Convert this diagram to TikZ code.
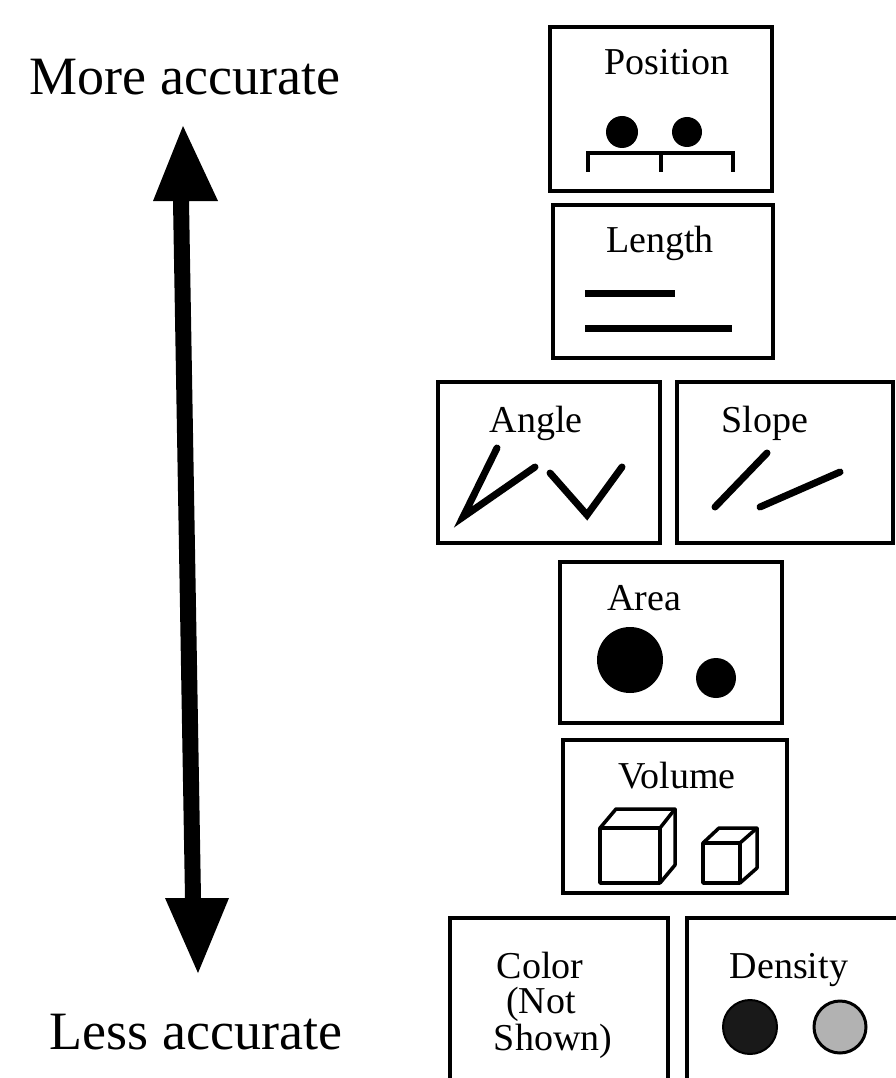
\documentclass[tikz,border=0pt]{standalone}
\usepackage{fontspec}
\setmainfont{Liberation Serif}
\begin{document}
\begin{tikzpicture}[x=1pt,y=-1pt,
  panel/.style={draw=black,line width=3.5pt},
  lab/.style={anchor=base,inner sep=0pt,font=\fontsize{38}{38}\selectfont},
  big/.style={anchor=base,inner sep=0pt,font=\fontsize{54}{54}\selectfont},
  stroke/.style={line width=7pt,line cap=round},
  bar/.style={line width=7pt},
  cube/.style={line width=3.5pt,line join=round}]
\useasboundingbox (0,0) rectangle (896,1078);
\clip (0,0) rectangle (896,1078);

% side labels
\node[big] (more) at (185,95) {More accurate};
\node[big] (less) at (196,1049) {Less accurate};

% double arrow
\coordinate (ttip) at (183,126);
\coordinate (btip) at (198,973);
\fill[black] (ttip) -- (218,201) -- (189,201) -- (201,898) -- (229,898) -- (btip)
  -- (165,898) -- (185,898) -- (173,201) -- (153,201) -- cycle;

% Position
\draw[panel] (550,27) rectangle (772,191);
\node[lab] (tpos) at (667,75) {Position};
\fill (622,132) circle (16);
\fill (687,132) circle (15);
\draw[line width=4pt] (588,172) -- (588,153) -- (733,153) -- (733,172);
\draw[line width=4pt] (661,153) -- (661,172);

% Length
\draw[panel] (553,205) rectangle (773,358);
\node[lab] (tlen) at (660,252) {Length};
\draw[bar] (585,293) -- (675,293);
\draw[bar] (585,328) -- (732,328);

% Angle
\draw[panel] (438,382) rectangle (660,543);
\node[lab] (tang) at (536,432) {Angle};
\draw[stroke,line join=miter] (497,448) -- (463,517) -- (535,467);
\draw[stroke,line join=miter] (550,473) -- (587,515) -- (622,467);

% Slope
\draw[panel] (677,382) rectangle (893,543);
\node[lab] (tslo) at (765,432) {Slope};
\draw[stroke] (715,507) -- (767,453);
\draw[stroke] (760,507) -- (840,472);

% Area
\draw[panel] (560,562) rectangle (782,723);
\node[lab] (tare) at (644,610) {Area};
\fill (630,660) circle (33);
\fill (716,678) circle (20);

% Volume
\draw[panel] (563,740) rectangle (787,893);
\node[lab] (tvol) at (677,788) {Volume};
\draw[cube] (600,828) rectangle (660,883);
\draw[cube] (600,828) -- (616,809) -- (675,809) -- (660,828);
\draw[cube] (675,809) -- (675,865) -- (660,883);
\draw[cube] (703,843) rectangle (740,883);
\draw[cube] (703,843) -- (719,828) -- (757,828) -- (740,843);
\draw[cube] (757,828) -- (757,868) -- (740,883);

% Color
\draw[panel] (450,1090) -- (450,918) -- (668,918) -- (668,1090);
\node[lab] (tcol) at (540,978) {Color};
\node[lab] (tnot) at (541,1013) {(Not};
\node[lab] (tsho) at (553,1050) {Shown)};

% Density
\draw[panel] (687,1090) -- (687,918) -- (900,918);
\node[lab] (tden) at (789,978) {Density};
\filldraw[fill=black!90,draw=black,line width=2pt] (750,1027) circle (27);
\filldraw[fill=black!30,draw=black,line width=3pt] (840,1027) circle (26);
\end{tikzpicture}
\end{document}
